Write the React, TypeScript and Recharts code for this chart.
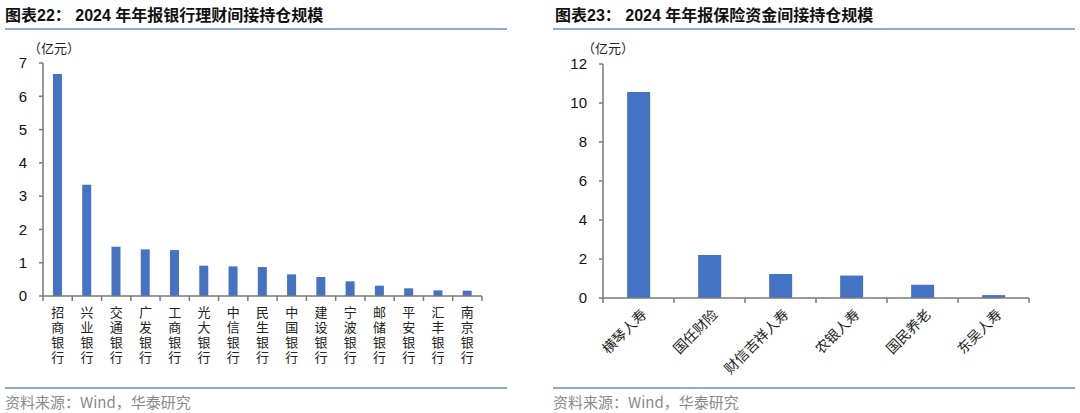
import React from "react";
import { BarChart, Bar, XAxis, YAxis } from "recharts";

// 图表22：银行理财
const bankNames = ["招商银行", "兴业银行", "交通银行", "广发银行", "工商银行", "光大银行", "中信银行", "民生银行", "中国银行", "建设银行", "宁波银行", "邮储银行", "平安银行", "汇丰银行", "南京银行"];
const bankValues = [6.67, 3.34, 1.48, 1.4, 1.38, 0.91, 0.89, 0.87, 0.65, 0.57, 0.44, 0.31, 0.23, 0.17, 0.16];
const bankTicks = [0, 1, 2, 3, 4, 5, 6, 7];

// 图表23：保险资金
const insurerNames = ["横琴人寿", "国任财险", "财信吉祥人寿", "农银人寿", "国民养老", "东吴人寿"];
const insurerValues = [10.56, 2.2, 1.23, 1.15, 0.68, 0.15];
const insurerTicks = [0, 2, 4, 6, 8, 10, 12];

const bankData = bankNames.map((name, i) => ({ name, value: bankValues[i] }));
const insurerData = insurerNames.map((name, i) => ({ name, value: insurerValues[i] }));

const BLUE = "#4472C4";
const AXIS = "#7a7a7a";
const RULE = "#8eaacc";
const CJK = '"Noto Sans CJK SC", "Liberation Sans", sans-serif';
const NUM = '"Liberation Sans", Arial, sans-serif';
const TITLE = '"Liberation Sans", "Noto Sans CJK SC", sans-serif';

const boundaryTicks = (x: number, y: number, half: number, last: boolean) => (
  <>
    <line x1={x - half} x2={x - half} y1={y} y2={y + 5} stroke={AXIS} strokeWidth={1.5} />
    {last && <line x1={x + half} x2={x + half} y1={y} y2={y + 5} stroke={AXIS} strokeWidth={1.5} />}
  </>
);

// vertical label, one text element written top to bottom
const StackedTick = (props: any) => {
  const { x, y, payload, index } = props;
  const half = payload?.offset ?? 0;
  return (
    <g>
      {boundaryTicks(x, y, half, index === bankNames.length - 1)}
      <text x={x} y={y + 10} fontSize={13} letterSpacing={2} fill="#222" fontFamily={CJK} style={{ writingMode: "vertical-rl" as any }}>
        {payload.value}
      </text>
    </g>
  );
};

const SlantTick = (props: any) => {
  const { x, y, payload, index } = props;
  const half = payload?.offset ?? 0;
  const ax = x + 5;
  const ay = y + 13;
  return (
    <g>
      {boundaryTicks(x, y, half, index === insurerNames.length - 1)}
      <text x={ax} y={ay} transform={`rotate(-45, ${ax}, ${ay})`} textAnchor="end" dominantBaseline="central" fontSize={14} fill="#222" fontFamily={CJK}>
        {payload.value}
      </text>
    </g>
  );
};

const Panel = ({ left, title, lineL, lineR, children }: any) => (
  <>
    <div style={{ position: "absolute", left, top: 6, fontSize: 16, fontWeight: 700, fontFamily: TITLE, color: "#111", whiteSpace: "nowrap", lineHeight: "20px" }}>
      {title}
    </div>
    <div style={{ position: "absolute", left: lineL, width: lineR - lineL, top: 28, height: 2, background: RULE }} />
    {children}
    <div style={{ position: "absolute", left: lineL, width: lineR - lineL, top: 387, height: 2, background: RULE }} />
    <div style={{ position: "absolute", left: lineL, top: 393, fontSize: 15, fontFamily: CJK, color: "#8a8a8a", whiteSpace: "nowrap", lineHeight: "18px" }}>
      资料来源：Wind，华泰研究
    </div>
  </>
);

export default function App() {
  return (
    <div style={{ position: "absolute", left: 0, top: 0, width: 1080, height: 413, background: "#fff", overflow: "hidden" }}>
      <Panel left={5} title="图表22： 2024 年年报银行理财间接持仓规模" lineL={5} lineR={507}>
        <div style={{ position: "absolute", left: 28, top: 38, fontSize: 13, fontFamily: CJK, color: "#222" }}>（亿元）</div>
        <div style={{ position: "absolute", left: 0, top: 0 }}>
          <BarChart width={540} height={413} data={bankData} margin={{ top: 63, right: 58, bottom: 37, left: 0 }} barCategoryGap="34%">
            <XAxis dataKey="name" interval={0} height={80} tickLine={false} tickSize={0} tickMargin={0} axisLine={{ stroke: AXIS, strokeWidth: 1.5 }} tick={<StackedTick />} />
            <YAxis width={43} domain={[0, 7]} ticks={bankTicks} interval={0} tickSize={4} tickMargin={12} axisLine={{ stroke: AXIS, strokeWidth: 1.5 }} tickLine={{ stroke: AXIS, strokeWidth: 1.5 }} tick={{ fill: "#111", fontSize: 15, fontFamily: NUM }} />
            <Bar dataKey="value" fill={BLUE} isAnimationActive={false} />
          </BarChart>
        </div>
      </Panel>
      <Panel left={555} title="图表23： 2024 年年报保险资金间接持仓规模" lineL={553} lineR={1075}>
        <div style={{ position: "absolute", left: 582, top: 38, fontSize: 13, fontFamily: CJK, color: "#222" }}>（亿元）</div>
        <div style={{ position: "absolute", left: 540, top: 0 }}>
          <BarChart width={540} height={413} data={insurerData} margin={{ top: 64, right: 51, bottom: 35, left: 0 }} barCategoryGap="34%">
            <XAxis dataKey="name" interval={0} height={80} tickLine={false} tickSize={0} tickMargin={0} axisLine={{ stroke: AXIS, strokeWidth: 1.5 }} tick={<SlantTick />} />
            <YAxis width={63} domain={[0, 12]} ticks={insurerTicks} interval={0} tickSize={4} tickMargin={12} axisLine={{ stroke: AXIS, strokeWidth: 1.5 }} tickLine={{ stroke: AXIS, strokeWidth: 1.5 }} tick={{ fill: "#111", fontSize: 15, fontFamily: NUM }} />
            <Bar dataKey="value" fill={BLUE} isAnimationActive={false} />
          </BarChart>
        </div>
      </Panel>
    </div>
  );
}
